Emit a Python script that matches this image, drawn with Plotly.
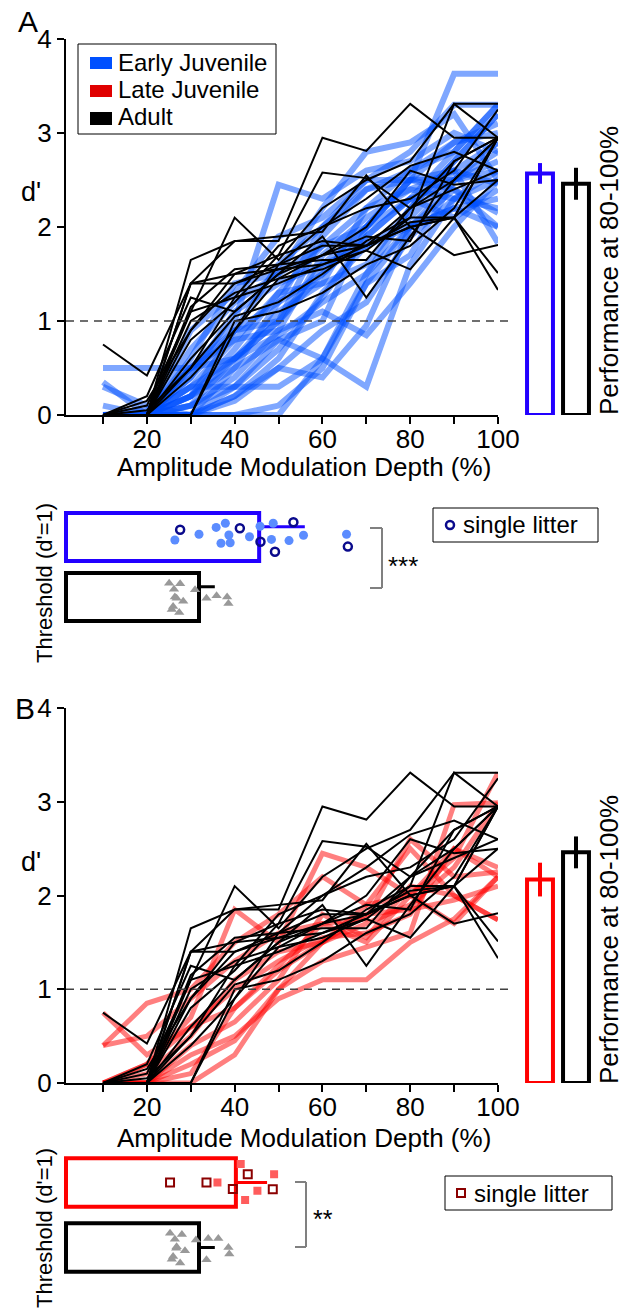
import plotly.graph_objects as go

W, H = 624, 1311
FONT = "Arial, Liberation Sans, sans-serif"

def fx(px):
    return px / W

def fy(py):
    return 1 - py / H

# ---------------- data ----------------
depth = [10, 20, 30, 40, 50, 60, 70, 80, 90, 100]
x_ticks = [10, 20, 30, 40, 50, 60, 70, 80, 90, 100]
x_ticktext = ["", "20", "", "40", "", "60", "", "80", "", "100"]
y_ticks = [0, 1, 2, 3, 4]

early_juvenile = [
    [0.5, 0.5, 0.5, 0.8, 0.9, 1.1, 0.85, 1.4, 2.0, 2.5],
    [0.35, 0.0, 0.2, 0.6, 1.0, 1.5, 2.0, 2.5, 3.63, 3.63],
    [0, 0, 0.2, 0.5, 1.2, 2.0, 2.5, 2.8, 3.3, 3.3],
    [0, 0, 0, 0.2, 0.5, 0.4, 0.95, 2.0, 2.5, 2.9],
    [0, 0, 0, 0, 0, 0.6, 1.5, 2.2, 2.7, 3.2],
    [0, 0, 0.1, 0.3, 0.8, 0.6, 0.3, 1.6, 2.3, 2.5],
    [0, 0, 0.5, 1.0, 2.45, 2.3, 2.6, 2.7, 3.0, 2.8],
    [0, 0, 0.6, 1.4, 1.5, 2.2, 2.8, 2.9, 3.2, 2.5],
    [0, 0, 0, 0.5, 0.8, 1.0, 2.0, 2.5, 2.6, 1.83],
    [0, 0, 0.3, 0.6, 0.85, 1.2, 1.5, 2.0, 2.4, 2.15],
    [0, 0, 0.2, 0.7, 1.3, 1.8, 2.2, 2.4, 2.6, 2.46],
    [0.1, 0, 0.4, 0.9, 1.6, 2.0, 2.4, 2.6, 2.9, 3.0],
    [0, 0, 0.1, 0.4, 0.9, 1.7, 2.1, 2.4, 2.3, 2.2],
    [0, 0, 0, 0.3, 0.7, 1.25, 1.9, 2.3, 2.8, 3.3],
    [0, 0, 0.7, 1.2, 1.5, 1.8, 2.0, 2.3, 2.5, 2.7],
    [0, 0, 0.3, 0.3, 0.3, 0.6, 1.4, 2.0, 2.2, 2.0],
    [0, 0, 0.9, 1.3, 1.9, 2.1, 2.5, 2.5, 2.5, 2.6],
    [0, 0, 0.2, 0.9, 1.2, 1.5, 1.9, 2.3, 2.1, 2.4],
    [0, 0.05, 0.5, 0.6, 1.0, 1.9, 2.4, 2.5, 2.9, 3.1],
    [0, 0, 0, 0.15, 0.5, 0.9, 1.2, 1.9, 2.3, 2.6],
    [0.3, 0.1, 0, 0.2, 0.6, 1.3, 1.8, 2.0, 2.2, 2.3],
    [0, 0, 0.4, 1.1, 1.4, 1.6, 1.8, 2.1, 2.6, 2.9],
    [0, 0, 0.1, 0.6, 1.1, 1.4, 2.2, 2.6, 2.8, 3.3],
    [0, 0, 0.5, 0.9, 1.0, 1.6, 2.0, 2.5, 2.4, 2.0],
    [0, 0, 0, 0, 0.1, 0.5, 1.4, 1.7, 2.5, 2.8],
    [0, 0, 0.3, 0.8, 1.3, 1.4, 1.6, 2.2, 2.7, 3.2],
]

late_juvenile = [
    [0.4, 0.85, 1.0, 1.5, 1.8, 2.2, 1.9, 2.5, 2.0, 1.74],
    [0.75, 0.3, 0.6, 1.0, 1.3, 1.55, 1.6, 1.8, 2.5, 2.2],
    [0, 0, 0, 0.3, 1.0, 1.5, 1.7, 1.9, 2.3, 2.99],
    [0, 0, 0.3, 0.5, 0.9, 1.1, 1.1, 1.5, 1.75, 2.2],
    [0, 0.2, 0.6, 0.8, 1.2, 1.5, 1.9, 2.0, 2.4, 3.31],
    [0, 0, 0.4, 0.65, 1.1, 1.8, 1.55, 2.1, 2.0, 1.74],
    [0, 0.2, 0.7, 1.85, 1.5, 2.45, 2.3, 2.0, 1.7, 2.2],
    [0, 0, 0.2, 0.45, 1.0, 1.3, 1.45, 1.6, 2.97, 2.99],
    [0, 0, 0.1, 0.8, 1.25, 1.7, 1.75, 2.6, 2.2, 2.25],
    [0, 0.1, 0.5, 1.1, 1.4, 1.5, 1.8, 1.85, 1.95, 2.1],
    [0.4, 0.5, 0.9, 1.3, 1.6, 1.7, 1.5, 2.0, 2.5, 2.3],
]

adult = [
    [0.75, 0.42, 1.4, 1.5, 1.7, 1.85, 1.8, 2.2, 2.5, 2.95],
    [0, 0, 1.65, 1.85, 1.85, 2.95, 2.81, 3.31, 2.95, 2.95],
    [0, 0.1, 1.1, 2.1, 1.65, 2.2, 2.5, 2.7, 3.31, 3.31],
    [0, 0, 1.4, 1.85, 1.9, 1.95, 2.55, 2.0, 2.1, 1.51],
    [0, 0.2, 1.25, 1.1, 1.5, 1.9, 1.25, 1.9, 2.5, 2.95],
    [0, 0, 0.9, 1.4, 1.6, 1.8, 1.8, 2.0, 2.1, 1.33],
    [0, 0, 0.8, 1.2, 1.7, 2.58, 2.52, 2.2, 2.7, 2.95],
    [0, 0, 1.4, 1.4, 1.55, 1.7, 2.0, 2.6, 2.45, 2.5],
    [0, 0, 0.4, 0.9, 1.6, 2.0, 2.3, 2.65, 2.8, 2.6],
    [0, 0, 1.1, 1.25, 1.4, 1.6, 1.8, 2.0, 1.7, 1.81],
    [0, 0, 0, 1.0, 1.1, 1.3, 1.6, 1.8, 2.2, 2.95],
    [0, 0, 0.6, 1.1, 1.5, 1.7, 1.9, 1.85, 2.7, 2.95],
    [0, 0, 0, 0.9, 1.45, 1.55, 1.75, 2.1, 2.1, 2.5],
    [0, 0, 1.0, 1.3, 1.45, 1.7, 1.8, 2.05, 2.1, 2.95],
    [0, 0.05, 0.5, 1.25, 1.8, 2.0, 2.2, 2.3, 2.6, 3.25],
    [0, 0.15, 0.9, 1.5, 1.55, 1.6, 1.75, 1.55, 2.1, 2.95],
    [0, 0, 1.15, 1.55, 1.6, 1.65, 1.65, 2.2, 2.4, 2.6],
    [0, 0, 0.5, 1.05, 1.2, 1.5, 1.85, 2.1, 3.31, 2.95],
]

# performance at 80-100% (d')
perf_groups_A = ["Early Juvenile", "Adult"]
perf_A = [2.57, 2.46]
perf_A_err = [0.11, 0.17]
perf_groups_B = ["Late Juvenile", "Adult"]
perf_B = [2.17, 2.46]
perf_B_err = [0.18, 0.17]

# thresholds (d'=1)
thr_groups = ["Adult", "Juvenile"]
thr_A = [30.3, 44.0]
thr_A_err = [3.6, 10.4]
thr_B = [30.3, 38.7]
thr_B_err = [3.6, 7.1]

ej_thr = [24.8, 30.3, 34.2, 36.3, 35.3, 37.4, 37.1, 41.8, 44.2, 47.2, 46.8, 50.8, 54.1, 63.9]
ej_jit = [-0.05, 0.045, 0.16, 0.23, -0.105, -0.095, 0.033, 0.005, 0.18, 0.23, -0.04, -0.06, 0.03, 0.045]
ej_single_thr = [26.0, 39.6, 44.3, 47.6, 51.8, 64.2]
ej_single_jit = [0.12, 0.145, -0.08, -0.245, 0.245, -0.16]

ad_thr_A = [23.5, 26.0, 24.6, 24.8, 26.7, 24.4, 24.1, 25.8, 29.4, 32.0, 34.3, 36.7, 37.0, 25.2]
ad_jit_A = [0.23, 0.22, 0.13, 0.0, -0.07, -0.16, -0.21, -0.26, 0.12, -0.02, 0.02, 0.0, -0.11, -0.02]

lj_thr = [39.8, 34.5, 47.4, 43.6, 40.8]
lj_jit = [0.285, 0.0, 0.126, -0.126, -0.27]
lj_single_thr = [23.7, 32.0, 41.4, 38.0, 47.1]
lj_single_jit = [0.0, 0.0, 0.126, -0.1, -0.105]

ad_thr_B = [23.7, 26.4, 24.8, 25.1, 27.1, 24.4, 24.1, 26.0, 29.6, 32.4, 34.7, 37.0, 37.2, 32.0, 25.2]
ad_jit_B = [0.22, 0.2, 0.126, -0.01, -0.05, -0.14, -0.18, -0.24, 0.115, 0.14, 0.14, 0.0, -0.1, -0.19, 0.01]

# ---------------- colours ----------------
C_EJ = "rgba(0,80,255,0.5)"
C_LJ = "rgba(255,0,0,0.5)"
C_EJ_BAR = "#2200ff"
C_LJ_BAR = "#ff0000"
C_EJ_PT = "#5b8cff"
C_EJ_SINGLE = "#0a0a8c"
C_LJ_PT = "#ff5c5c"
C_LJ_SINGLE = "#8b0000"
C_GREY = "#999999"

fig = go.Figure()

# ---------- main line panels ----------
def add_lines(group, color, width, xa, ya):
    for row in group:
        fig.add_trace(go.Scatter(x=depth, y=row, mode="lines",
                                 line=dict(color=color, width=width),
                                 xaxis=xa, yaxis=ya, showlegend=False,
                                 hoverinfo="skip"))

add_lines(early_juvenile, C_EJ, 6, "x", "y")
add_lines(adult, "black", 2, "x", "y")
add_lines(late_juvenile, C_LJ, 5, "x4", "y4")
add_lines(adult, "black", 2, "x4", "y4")

# ---------- performance bars ----------
def add_perf(vals, errs, colors, xa, ya):
    for i in range(2):
        fig.add_trace(go.Bar(x=[i], y=[vals[i]], width=0.72,
                             marker=dict(color="white", line=dict(color=colors[i], width=4)),
                             error_y=dict(type="data", array=[errs[i]], visible=True,
                                          color=colors[i], thickness=4, width=0),
                             xaxis=xa, yaxis=ya, showlegend=False, hoverinfo="skip"))

add_perf(perf_A, perf_A_err, [C_EJ_BAR, "black"], "x2", "y2")
add_perf(perf_B, perf_B_err, [C_LJ_BAR, "black"], "x5", "y5")

# ---------- threshold panels ----------
def add_thr(vals, errs, colors, width, xa, ya, err_shift=0.0):
    for i in range(2):
        fig.add_trace(go.Bar(y=[i], x=[vals[i]], orientation="h", width=width,
                             marker=dict(color="white", line=dict(color=colors[i], width=4)),
                             xaxis=xa, yaxis=ya, showlegend=False, hoverinfo="skip"))
        # one-sided SD whisker
        fig.add_trace(go.Scatter(x=[vals[i]], y=[i + err_shift], mode="markers",
                                 marker=dict(size=1, color="rgba(0,0,0,0)"),
                                 error_x=dict(type="data", array=[errs[i]], arrayminus=[0],
                                              visible=True, color=colors[i], thickness=3, width=0),
                                 xaxis=xa, yaxis=ya, showlegend=False, hoverinfo="skip"))

def add_pts(xs, jit, base, symbol, color, size, xa, ya, open_=False, lw=2):
    ys = [base + j for j in jit]
    if open_:
        mk = dict(symbol=symbol + "-open", color=color, size=size, line=dict(color=color, width=lw))
    else:
        mk = dict(symbol=symbol, color=color, size=size, line=dict(width=0))
    fig.add_trace(go.Scatter(x=xs, y=ys, mode="markers", marker=mk,
                             xaxis=xa, yaxis=ya, showlegend=False, hoverinfo="skip"))

add_thr(thr_A, thr_A_err, ["black", C_EJ_BAR], 0.8, "x3", "y3", err_shift=0.17)
add_pts(ej_thr, ej_jit, 1, "circle", C_EJ_PT, 9, "x3", "y3")
add_pts(ej_single_thr, ej_single_jit, 1, "circle", C_EJ_SINGLE, 8, "x3", "y3", open_=True, lw=2.5)
add_pts(ad_thr_A, ad_jit_A, 0, "triangle-up", C_GREY, 9, "x3", "y3")

add_thr(thr_B, thr_B_err, ["black", C_LJ_BAR], 0.75, "x6", "y6")
add_pts(lj_thr, lj_jit, 1, "square", C_LJ_PT, 8, "x6", "y6")
add_pts(lj_single_thr, lj_single_jit, 1, "square", C_LJ_SINGLE, 8, "x6", "y6", open_=True, lw=2)
add_pts(ad_thr_B, ad_jit_B, 0, "triangle-up", C_GREY, 9, "x6", "y6")

# ---------- axes ----------
main_x = dict(range=[1.57, 100], tickvals=x_ticks, ticktext=x_ticktext,
              showline=True, linewidth=2, linecolor="black", ticks="outside",
              ticklen=7, tickwidth=2, tickcolor="black", showgrid=False, zeroline=False,
              automargin=False, ticklabelstandoff=-7,
              tickfont=dict(size=26, color="black", family=FONT))
main_y = dict(range=[0, 4], tickvals=y_ticks,
              showline=True, linewidth=2, linecolor="black", ticks="outside",
              ticklen=7, tickwidth=2, tickcolor="black", showgrid=False, zeroline=False,
              automargin=False,
              tickfont=dict(size=26, color="black", family=FONT))
hidden = dict(visible=False, showgrid=False, zeroline=False, automargin=False)

layout_axes = dict(
    xaxis=dict(domain=[fx(66), fx(498)], anchor="y", **main_x),
    yaxis=dict(domain=[fy(415), fy(39)], anchor="x", **main_y),
    xaxis2=dict(domain=[fx(522), fx(594)], anchor="y2", range=[-0.5, 1.5], **hidden),
    yaxis2=dict(domain=[fy(415), fy(39)], anchor="x2", range=[0, 4], **hidden),
    xaxis3=dict(domain=[fx(59.4), fx(498)], anchor="y3", range=[-1.5, 98.4], **hidden),
    yaxis3=dict(domain=[fy(633), fy(501)], anchor="x3", range=[-0.6, 1.6], **hidden),
    xaxis4=dict(domain=[fx(66), fx(498)], anchor="y4", **main_x),
    yaxis4=dict(domain=[fy(1083), fy(708)], anchor="x4", **main_y),
    xaxis5=dict(domain=[fx(522), fx(594)], anchor="y5", range=[-0.5, 1.5], **hidden),
    yaxis5=dict(domain=[fy(1083), fy(708)], anchor="x5", range=[0, 4], **hidden),
    xaxis6=dict(domain=[fx(59.4), fx(498)], anchor="y6", range=[-1.5, 98.4], **hidden),
    yaxis6=dict(domain=[fy(1286.5), fy(1143.5)], anchor="x6", range=[-0.6, 1.6], **hidden),
    xaxis7=dict(domain=[0, 1], range=[0, 1], anchor="y7", **hidden),
    yaxis7=dict(domain=[0, 1], range=[0, 1], anchor="x7", **hidden),
)

shapes = []
annotations = []

def ann(text, px, py, size, xanchor="center", yanchor="middle", angle=0, color="black"):
    annotations.append(dict(text=text, x=fx(px), y=fy(py), xref="paper", yref="paper",
                            showarrow=False, xanchor=xanchor, yanchor=yanchor,
                            textangle=angle, font=dict(size=size, color=color, family=FONT)))

def rect(x0, y0, x1, y1, fill=None, line=None, lw=1):
    shapes.append(dict(type="rect", xref="paper", yref="paper",
                       x0=fx(x0), x1=fx(x1), y0=fy(y1), y1=fy(y0),
                       fillcolor=fill if fill else "rgba(0,0,0,0)",
                       line=dict(color=line if line else "rgba(0,0,0,0)", width=lw if line else 0)))

def seg(x0, y0, x1, y1, color, lw):
    shapes.append(dict(type="line", xref="paper", yref="paper",
                       x0=fx(x0), x1=fx(x1), y0=fy(y0), y1=fy(y1),
                       line=dict(color=color, width=lw)))

# dashed d'=1 lines
for ya in ["y", "y4"]:
    shapes.append(dict(type="line", xref="paper", yref=ya, x0=fx(66), x1=fx(509), y0=1, y1=1,
                       line=dict(color="#404040", width=1.5, dash="8px,6px")))

# Panel labels
ann("A", 28, 22, 30)
ann("B", 25, 708, 30)
ann("d'", 31, 192, 27)
ann("d'", 31, 862, 27)
ann("Amplitude Modulation Depth (%)", 304, 467, 26)
ann("Amplitude Modulation Depth (%)", 304, 1138, 26)
ann("Performance at 80-100%", 609, 271, 26, angle=-90)
ann("Performance at 80-100%", 609, 940, 26, angle=-90)
ann("Threshold (d'=1)", 44, 583, 22, angle=-90)
ann("Threshold (d'=1)", 44, 1228, 22, angle=-90)

# legend panel A
rect(78, 44, 276, 134, line="black", lw=1)
rect(90, 57, 112, 69, fill="#0050ff")
rect(90, 85, 112, 97, fill="#e00000")
rect(90, 112, 112, 125, fill="black")
ann("Early Juvenile", 116, 63, 24, xanchor="left")
ann("Late Juvenile", 116, 89, 24, xanchor="left")
ann("Adult", 116, 116, 24, xanchor="left")

# single litter legends
rect(433, 508, 598, 542, line="black", lw=1)
ann("single litter", 461, 525, 24, xanchor="left")
rect(445, 1176, 612, 1210, line="black", lw=1)
ann("single litter", 472, 1193, 24, xanchor="left")

# brackets
seg(370, 528, 382, 528, "#808080", 2)
seg(382, 528, 382, 588, "#808080", 2)
seg(370, 588, 382, 588, "#808080", 2)
ann("***", 386, 566, 26, xanchor="left")
seg(295, 1182, 306, 1182, "#808080", 2)
seg(306, 1182, 306, 1247, "#808080", 2)
seg(295, 1247, 306, 1247, "#808080", 2)
ann("**", 311, 1219, 25, xanchor="left")

# legend markers for single litter
fig.add_trace(go.Scatter(x=[fx(450)], y=[fy(525)], mode="markers",
                         marker=dict(symbol="circle-open", color=C_EJ_SINGLE, size=8,
                                     line=dict(width=2.5, color=C_EJ_SINGLE)),
                         xaxis="x7", yaxis="y7", showlegend=False, hoverinfo="skip"))
fig.add_trace(go.Scatter(x=[fx(461)], y=[fy(1193)], mode="markers",
                         marker=dict(symbol="square-open", color=C_LJ_SINGLE, size=8,
                                     line=dict(width=2, color=C_LJ_SINGLE)),
                         xaxis="x7", yaxis="y7", showlegend=False, hoverinfo="skip"))

fig.update_layout(width=W, height=H, autosize=False,
                  margin=dict(l=0, r=0, t=0, b=0, pad=0, autoexpand=False),
                  paper_bgcolor="white", plot_bgcolor="rgba(0,0,0,0)",
                  showlegend=False, barmode="overlay",
                  shapes=shapes, annotations=annotations, **layout_axes)

fig.write_html("out.html",
               config={"displayModeBar": False, "responsive": False},
               post_script="document.body.style.margin='0px';"
                           "document.body.style.padding='0px';"
                           "document.body.style.overflow='hidden';"
                           "document.documentElement.style.overflow='hidden';")
